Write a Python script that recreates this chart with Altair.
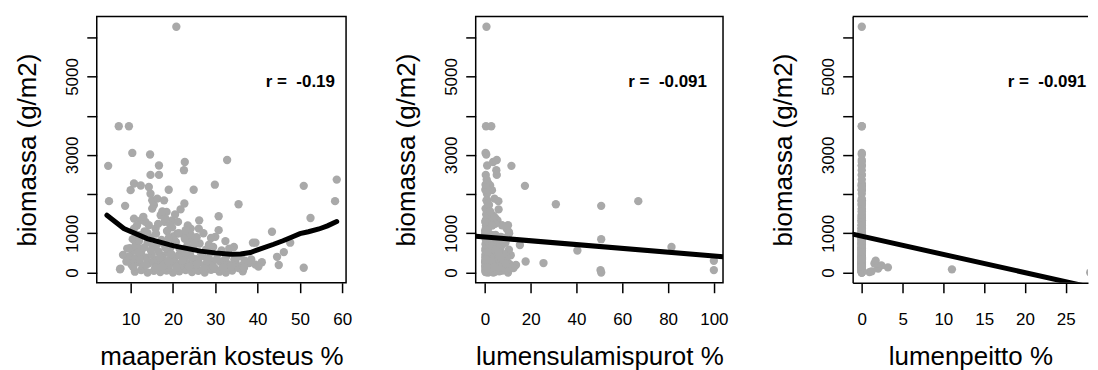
import altair as alt
import pandas as pd

moisture = [20.8, 7.2, 9.6, 4.7, 10.4, 14.6, 16.7, 14.7, 16.7, 22.8, 22.6, 32.8, 4.9, 8.7, 10.0, 10.8, 12.4, 14.3, 14.7, 15.1,
            15.5, 19.0, 24.9, 29.9, 35.5, 50.9, 58.7, 58.3, 52.5, 43.4, 46.2, 47.7, 50.9, 44.6, 45.0, 39.5,
            15.1, 16.3, 17.9, 18.5, 19.8, 22.7, 21.8, 26.2, 26.1, 24.2, 30.8, 30.8, 30.0, 28.5, 32.4, 34.4, 38.9, 10.8, 12.4, 13.5,
            10.8, 9.2, 9.6, 7.6, 14.3, 15.9, 17.1, 18.0, 19.4, 21.0, 22.6, 24.2, 11.6, 10.0,
            7.5, 11.0, 12.5, 14.0, 15.5, 17.0, 18.5, 20.0, 21.5, 23.0, 24.5, 26.0, 27.5, 29.0, 31.0, 32.5, 34.0, 36.5, 13.0, 16.0,
            19.0, 22.0, 25.0, 28.0, 30.0, 33.0, 35.5,
            10.2, 11.5, 12.8, 14.2, 15.4, 16.6, 17.8, 19.2, 20.5, 21.8, 23.2, 24.6, 26.0, 27.5, 29.2, 31.2, 33.0, 34.8, 36.5, 38.0,
            39.5, 41.0, 37.0, 32.0,
            10.0, 11.2, 12.5, 13.8, 15.0, 16.3, 17.5, 18.8, 20.1, 21.4, 22.7, 24.0, 25.5, 27.0, 28.5, 30.5, 32.5, 34.5, 36.0, 10.8,
            9.8, 11.2, 12.6, 14.0, 15.3, 16.6, 17.9, 19.3, 20.7, 22.0, 23.4, 24.8, 26.3, 27.8, 29.5, 31.5, 33.3,
            10.5, 12.0, 13.3, 14.7, 16.0, 17.3, 18.6, 20.0, 21.4, 22.8, 24.2, 25.6, 27.2, 29.0,
            11.5, 13.0, 16.5, 18.2, 19.8, 21.2, 23.5, 20.5, 17.5,
            8.2, 9.0, 10.6, 11.8, 12.2, 13.2, 13.6, 14.8, 15.8, 16.2, 16.9, 17.6, 18.3, 18.9, 19.6, 20.3, 20.9, 21.6, 22.3, 23.0,
            23.8, 24.4, 25.1, 25.8, 26.6, 27.2, 28.1, 28.8, 29.6, 30.3, 31.8, 33.8, 35.0, 36.8, 38.5, 40.2, 12.0, 14.0, 19.0, 23.0]

biomass = [6270, 3730, 3730, 2720, 3050, 3010, 2730, 2490, 2490, 2820, 2610, 2870, 1820, 1700, 2100, 2270, 2220, 2180, 2010, 1840,
           1720, 2110, 2110, 2240, 1740, 2210, 2370, 1820, 1390, 1040, 520, 760, 120, 400, 190, 760,
           1630, 1885, 1840, 1545, 1330, 1760, 1610, 1330, 1120, 1120, 1435, 1080, 910, 710, 800, 650, 760, 1375, 1330, 1290,
           1120, 610, 400, 100, 1206, 1120, 1460, 1290, 1206, 990, 950, 849, 654, 316,
           80, 20, 60, 0, 40, 10, 50, 0, 30, 60, 10, 40, 0, 70, 20, 0, 50, 30, 110, 90,
           120, 100, 130, 110, 90, 120, 110,
           200, 260, 180, 230, 280, 190, 250, 210, 270, 180, 240, 200, 260, 190, 230, 270, 210, 250, 190, 240,
           200, 260, 300, 300,
           420, 350, 480, 380, 450, 330, 420, 500, 360, 440, 380, 470, 340, 420, 360, 450, 380, 330, 410, 560,
           620, 700, 580, 760, 650, 540, 720, 610, 780, 560, 690, 620, 740, 580, 650, 560, 610,
           850, 950, 1050, 880, 990, 830, 1060, 920, 1000, 860, 960, 900, 1000, 880,
           1200, 1420, 1240, 1380, 1150, 1290, 1200, 1480, 1560,
           450, 280, 140, 520, 330, 640, 200, 560, 120, 720, 380, 150, 620, 300, 470, 820, 140, 600, 300, 500,
           150, 380, 720, 220, 500, 90, 290, 510, 140, 330, 130, 160, 380, 120, 330, 150, 810, 1000, 880, 1080]

melt = [0.7, 0.5, 2.8, 11.6, 0.3, 0.6, 1.0, 5.2, 0.4, 3.6, 5.0, 5.2, 5.9, 50.8, 3.1, 1.5, 2.3, 0.6, 0.9, 1.0,
        1.8, 1.2, 0.2, 0.3, 31.0, 17.5, 0.8, 67.0, 4.5, 10.4, 2.5, 6.5, 0.5, 8.0, 13.6, 3.0,
        0.3, 4.2, 0.7, 2.0, 5.5, 1.3, 6.0, 0.4, 9.5, 0.9, 3.8, 0.2, 7.0, 1.6, 4.8, 0.6, 9.0, 2.6, 0.5, 4.0,
        1.1, 6.8, 0.4, 2.2, 10.1, 0.8, 3.3, 0.2, 7.5, 1.9, 0.5, 50.8, 3.4, 8.8,
        0.6, 4.4, 50.5, 50.8, 1.2, 0.3, 7.8, 10.1, 2.9, 100.0, 0.5, 5.6, 1.4, 9.2, 0.9, 3.7, 0.2, 6.3, 11.0, 2.0,
        0.7, 4.9, 1.7, 12.5, 0.4, 8.4, 2.4,
        1.0, 6.1, 0.3, 3.2, 17.8, 0.8, 9.9, 2.7, 0.1, 5.3, 25.6, 1.5, 7.1, 0.6, 4.1, 0.3, 10.8, 1.9, 0.5, 6.6,
        3.0, 0.8, 100.0, 2.1,
        0.7, 5.0, 1.3, 8.1, 0.2, 3.9, 0.9, 6.9, 1.6, 11.3, 0.4, 2.8, 7.4, 0.6, 4.6, 1.1, 9.6, 0.5, 3.5, 0.2,
        2.2, 15.3, 0.6, 4.3, 81.5, 1.4, 7.7, 0.3, 3.1, 40.4, 0.9, 5.8, 0.5, 10.5, 2.0, 0.7, 6.2,
        0.4, 3.6, 0.8, 8.5, 1.2, 5.1, 0.3, 2.5, 10.6, 0.6, 4.7, 1.8, 0.2, 6.4,
        0.5, 2.9, 4.5, 0.9, 1.7, 0.4, 3.2, 0.6, 2.3,
        1.3, 0.2, 3.8, 0.6, 2.4, 5.3, 0.4, 1.9, 7.2, 0.3, 2.6, 0.8, 4.9, 0.5, 8.3, 1.1, 0.2, 3.4, 0.7, 6.0,
        1.6, 0.3, 2.2, 9.1, 0.9, 0.4, 3.0, 1.2, 5.9, 0.6, 2.3, 0.4, 7.0, 1.0, 0.3, 4.2, 1.4, 0.3, 2.1, 0.5]

snow = [0, 0, 0, 0, 0, 0, 0, 0, 0, 0, 0, 0, 0, 0, 0, 0, 0, 0, 0, 0,
        0, 0, 0, 0, 0, 0, 0, 0, 0, 0, 0, 0, 0, 0, 0, 0,
        0, 0, 0, 0, 0, 0, 0, 0, 0, 0, 0, 0, 0, 0, 0, 0, 0, 0, 0, 0,
        0, 0, 0, 0, 0, 0, 0, 0, 0, 0, 0, 0, 0, 0,
        11.05, 0, 0, 0, 0, 0.94, 0, 0, 1.2, 0, 0, 0, 28.0, 0, 0, 0, 0, 0, 0, 0,
        0, 2.0, 3.2, 0, 0, 0, 0,
        0, 0, 2.4, 1.55, 0, 0, 0, 0, 0, 0, 0, 0, 0, 0, 0, 0, 0, 0, 0, 0,
        0, 0, 0, 1.7,
        0, 0, 0, 0, 0, 0, 0, 0, 0, 0, 0, 0, 0, 0, 0, 0, 0, 0, 0, 0,
        0, 0, 0, 0, 0, 0, 0, 0, 0, 0, 0, 0, 0, 0, 0, 0, 0,
        0, 0, 0, 0, 0, 0, 0, 0, 0, 0, 0, 0, 0, 0,
        0, 0, 0, 0, 0, 0, 0, 0, 0,
        0, 0, 0, 0, 0, 0, 0, 0, 0, 0, 0, 0, 0, 0, 0, 0, 0, 0, 0, 0,
        0, 0, 0, 0, 0, 0, 0, 0, 0, 0, 0, 0, 0, 0, 0, 0, 0, 0, 0, 0]

# ---- fitted lines ----
loess_moisture = [4.4, 8.4, 13.9, 20.2, 26.5, 30.0, 33.6, 36.0, 38.3, 40.0, 43.8, 46.0, 48.0, 50.0, 52.0, 54.5, 56.5, 58.7]
loess_biomass = [1460, 1120, 865, 680, 545, 500, 465, 470, 510, 577, 720, 810, 900, 990, 1040, 1110, 1190, 1300]
melt_fit_x = [-4.0, 104.0]
melt_fit_y = [926, 400]
snow_fit_x = [-1.12, 28.46]
snow_fit_y = [978, -397]

# ---- labels ----
x_titles = ["maaperän kosteus %", "lumensulamispurot %", "lumenpeitto %"]
r_labels = ["r =\u00a0 -0.19", "r =\u00a0 -0.091", "r =\u00a0 -0.091"]
r_label_x = [50.1, 79.8, 22.7]
r_label_y = 4850
y_ticks = [0, 1000, 2000, 3000, 4000, 5000, 6000]
x_ticks = [[10, 20, 30, 40, 50, 60], [0, 20, 40, 60, 80, 100], [0, 5, 10, 15, 20, 25]]
x_domains = [[2.0, 60.9], [-4.0, 104.0], [-1.12, 27.73]]
y_domain = [-262, 6532]

FONT = "Liberation Sans"
H = 267
widths = [250, 248, 236]

obs = pd.DataFrame({"moisture": moisture, "biomass": biomass, "melt": melt, "snow": snow})


def panel(i, field, fit_x, fit_y, boxed):
    x = alt.X(f"{field}:Q",
              scale=alt.Scale(domain=x_domains[i], nice=False, zero=False),
              axis=alt.Axis(values=x_ticks[i], title=x_titles[i], format="d",
                            labelFlush=False, labelOverlap=False, domain=not boxed,
                            labelBaseline="top", labelPadding=19,
                            titleY=82, titleBaseline="alphabetic"))
    y = alt.Y("biomass:Q",
              scale=alt.Scale(domain=y_domain, nice=False, zero=False),
              axis=alt.Axis(values=y_ticks, title="biomassa (g/m2)",
                            labelExpr="(datum.value == 2000 || datum.value == 4000 || datum.value == 6000) ? '' : format(datum.value, 'd')",
                            labelAngle=270, labelAlign="center", labelBaseline="alphabetic",
                            labelPadding=9, labelOverlap=False, labelFlush=False, domain=not boxed,
                            titleAngle=270, titleAlign="center", titleBaseline="alphabetic",
                            titleX=-61, titleY=H / 2))
    pts = alt.Chart(obs).mark_circle(size=70, color="#a9a9a9", opacity=1, clip=True).encode(x=x, y=y)
    fit_df = pd.DataFrame({field: fit_x, "biomass": fit_y})
    fit = alt.Chart(fit_df).mark_line(color="black", strokeWidth=5, clip=True,
                                      strokeCap="round").encode(x=x, y=y)
    lab_df = pd.DataFrame({field: [r_label_x[i]], "biomass": [r_label_y], "t": [r_labels[i]]})
    lab = alt.Chart(lab_df).mark_text(font=FONT, fontSize=17, fontWeight="bold", color="black",
                                      align="center", baseline="middle", clip=True).encode(x=x, y=y, text="t:N")
    layers = [pts, fit, lab]
    props = dict(width=widths[i], height=H)
    if not boxed:
        top = alt.Chart(pd.DataFrame({"k": [0]})).mark_rule(color="black", strokeWidth=1.5).encode(
            x=alt.value(0), x2=alt.value(widths[i]), y=alt.value(0))
        layers.append(top)
        props["view"] = alt.ViewBackground(stroke="transparent")
    return alt.layer(*layers).properties(**props)


p1 = panel(0, "moisture", loess_moisture, loess_biomass, True)
p2 = panel(1, "melt", melt_fit_x, melt_fit_y, True)
p3 = panel(2, "snow", snow_fit_x, snow_fit_y, False)

chart = alt.hconcat(p1, p2, p3, spacing=130, bounds="flush").properties(
    padding={"left": 6, "top": 6, "right": 0, "bottom": 0}
).configure_view(stroke="black", strokeWidth=1.5).configure_axis(
    grid=False, labelFont=FONT, titleFont=FONT, labelFontSize=17, titleFontSize=26,
    titleFontWeight="normal", labelColor="black", titleColor="black",
    tickColor="black", tickSize=10, tickWidth=1.5, domainColor="black", domainWidth=1.5
)

chart.save("out.html", embed_options={"renderer": "svg", "actions": False})
